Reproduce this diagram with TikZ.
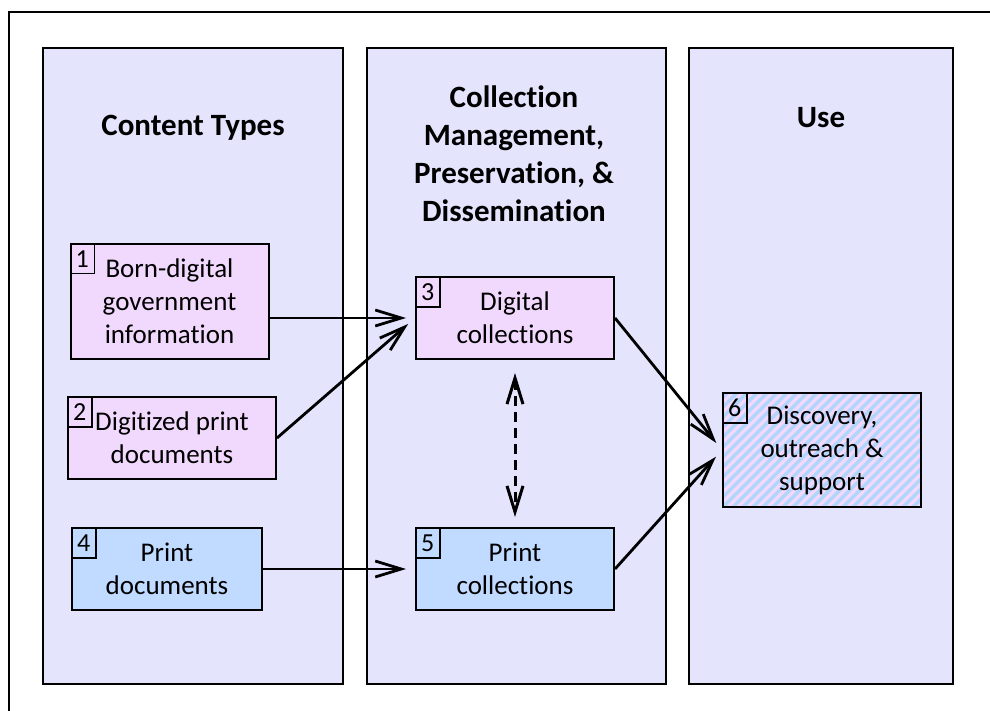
\documentclass[tikz,border=0pt]{standalone}
\usepackage{fontspec}
\setmainfont{Carlito}[Ligatures=NoCommon]
\usetikzlibrary{arrows.meta, positioning}

\definecolor{panelfill}{RGB}{228,228,253}
\definecolor{digitalfill}{RGB}{241,216,253}
\definecolor{printfill}{RGB}{193,218,255}
\definecolor{stripeblue}{RGB}{176,214,251}

\begin{document}
\begin{tikzpicture}[x=1pt, y=-1pt, on grid]
\tikzstyle{panel} = [rectangle, draw, line width=2pt, fill=panelfill,
    minimum width=300pt, minimum height=636pt, inner sep=0pt]
\tikzstyle{title} = [font=\fontsize{31}{38}\selectfont\bfseries, align=center]
\tikzstyle{block} = [rectangle, draw, line width=2pt, minimum width=198pt,
    minimum height=82pt, align=center, font=\fontsize{27}{33}\selectfont, inner sep=0pt]
\tikzstyle{digital} = [block, fill=digitalfill]
\tikzstyle{print} = [block, fill=printfill]
\tikzstyle{mixed} = [block, fill=digitalfill, path picture={
    \foreach \i in {-130,-120,...,210}
      \draw[stripeblue, line width=3.3pt] ([xshift=\i pt]path picture bounding box.south west) -- ++(130pt,130pt);}]
\tikzstyle{num} = [draw, line width=1.5pt, minimum width=24pt, minimum height=30pt,
    inner sep=0pt, anchor=north west, font=\fontsize{26}{26}\selectfont]
\tikzstyle{line} = [draw, line width=2.8pt, shorten >=9pt, -{Straight Barb[length=26pt, width=16pt]}]

 \useasboundingbox (0,0) rectangle (990,711);
 \draw[line width=2pt] (9,12) rectangle (1000,720);

 % the three columns
 \node [panel] (types) at (193,366) {};
 \node [panel, minimum width=299pt] (manage) at (516.5,366) {};
 \node [panel, minimum width=264pt] (use) at (821,366) {};

 \node [title] (typestitle) at (193,128) {Content Types};
 \node [title] (managetitle) at (514,154) {Collection\\Management,\\Preservation, \&\\Dissemination};
 \node [title] (usetitle) at (821,118) {Use};

 % content
 \node [digital, minimum height=115pt] (born) at (169.5,301.5) {Born-digital\\government\\information};
 \node [digital, minimum width=208pt, below=136.5pt of born, xshift=2.5pt] (digitized) {Digitized print\\documents};
 \node [print, minimum width=190pt, below=131pt of digitized, xshift=-5pt] (printdocs) {Print\\documents};

 \node [print, right=348pt of printdocs] (printcoll) {Print\\collections};
 \node [digital, above=251pt of printcoll] (digicoll) {Digital\\collections};

 \node [mixed, minimum height=114pt] (discovery) at (822,450) {Discovery,\\outreach \&\\support};

 \node [num] (bornnum) at (born.north west) {1};
 \node [num] (digitizednum) at (digitized.north west) {2};
 \node [num] (digicollnum) at (digicoll.north west) {3};
 \node [num] (printdocsnum) at (printdocs.north west) {4};
 \node [num] (printcollnum) at (printcoll.north west) {5};
 \node [num] (discoverynum) at (discovery.north west) {6};

 \path [line] (born.east |- digicoll.west) -- (digicoll.west);
 \path [line] (digitized.east) -- (digicoll.west);
 \path [line] (printdocs.east) -- (printcoll.west);
 \path [line] (digicoll.east) -- (discovery.west);
 \path [line] (printcoll.east) -- (discovery.west);
 \path [line, line width=3pt, dash pattern=on 10pt off 6pt, shorten <=13pt, shorten >=10pt,
    {Straight Barb[length=26pt, width=16pt]}-{Straight Barb[length=26pt, width=16pt]}]
    (digicoll.south) -- (printcoll.north);
\end{tikzpicture}
\end{document}
